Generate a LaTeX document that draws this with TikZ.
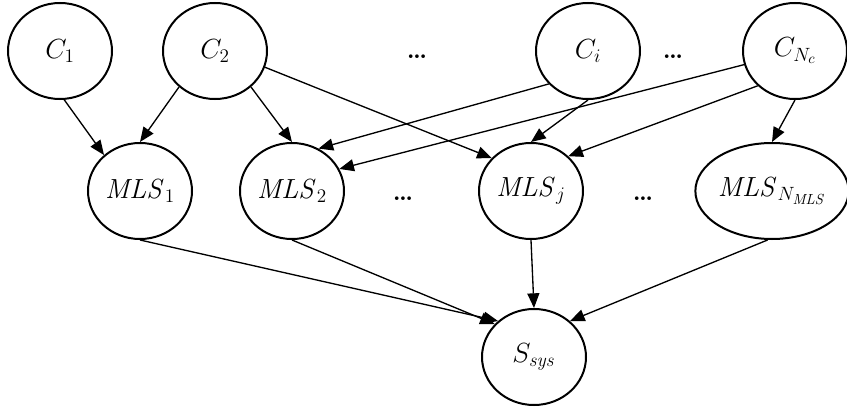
\documentclass[tikz,border=0pt]{standalone}
\usepackage{xcolor}
\usepackage{tikz}
\usetikzlibrary{shapes.geometric,arrows.meta}

\begin{document}
\begin{tikzpicture}[x=0.75pt,y=0.75pt]
        \tikzstyle{every node}+=[inner sep=0pt]
        \tikzstyle{var}=[draw=black, line width=1.5pt, ellipse, minimum width=78pt, minimum height=72pt, font=\fontsize{22}{26}\selectfont]
        \tikzstyle{dots}=[font=\fontsize{19}{22}\selectfont\bfseries]
        \tikzstyle{dep}=[black, line width=1pt, -{Triangle[length=11pt,width=9pt]}]
        \useasboundingbox (0,0) rectangle (847,-410);
        % causes
        \node [var] (c1) at (60,-51) {$C_1$};
        \node [var] (c2) at (215,-51) {$C_2$};
        \node [dots] (dotsa) at (417,-57) {\ldots};
        \node [var] (ci) at (588,-51) {$C_i$};
        \node [dots] (dotsb) at (673,-57) {\ldots};
        \node [var] (cnc) at (795,-51) {$C_{N_c}$};
        % modes
        \node [var] (mls1) at (140,-191) {$\mathit{MLS}_1$};
        \node [var] (mls2) at (292,-191) {$\mathit{MLS}_2$};
        \node [dots] (dotsc) at (403,-199) {\ldots};
        \node [var] (mlsj) at (531,-191) {$\mathit{MLS}_j$};
        \node [dots] (dotsd) at (643,-199) {\ldots};
        \node [var, minimum width=111pt] (mlsn) at (772,-191) {$\mathit{MLS}_{N_\mathit{MLS}}$};
        % system
        \node [var] (ssys) at (534,-357) {$S_\mathit{sys}$};
        \draw [dep] (c1.-85) -- (mls1.135);
        \draw [dep] (c2.225) -- (mls1.north);
        \draw [dep] (c2.-45) -- (mls2.north);
        \draw [dep] (c2.-18) -- (mlsj.140);
        \draw [dep] (ci.220) -- (mls2.58);
        \draw [dep] (ci.south) -- (mlsj.north);
        \draw [dep] (cnc.195) -- (mls2.25);
        \draw [dep] (cnc.223) -- (mlsj.43);
        \draw [dep] (cnc.south) -- (mlsn.north);
        \draw [dep] (mls1.south) -- (ssys.135);
        \draw [dep] (mls2.south) -- (ssys.140);
        \draw [dep] (mlsj.south) -- (ssys.north);
        \draw [dep] (mlsn.-95) -- (ssys.45);
    \end{tikzpicture}
\end{document}
